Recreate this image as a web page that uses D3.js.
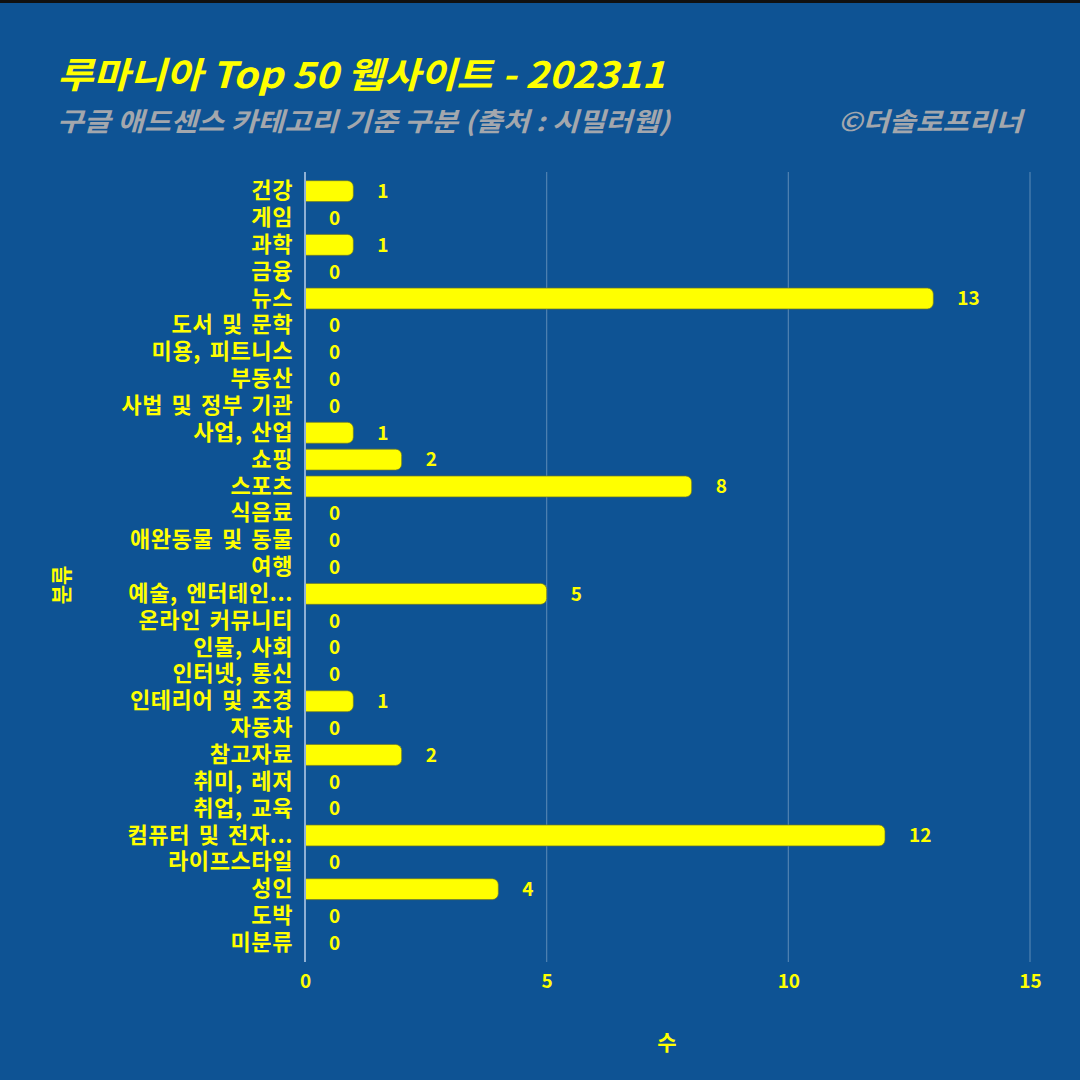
<!DOCTYPE html>
<html>
<head>
<meta charset="utf-8">
<script src="https://cdn.jsdelivr.net/npm/d3@7"></script>
<style>
  html, body { margin: 0; padding: 0; background: #0e5394; }
  svg { display: block; }
  text { font-family: "Noto Sans CJK KR", "Noto Sans", sans-serif; }
</style>
</head>
<body>
<svg id="chart" width="1080" height="1080"></svg>
<script>
// category names and counts, top to bottom
const categories = [
  "건강", "게임", "과학", "금융", "뉴스", "도서 및 문학", "미용, 피트니스", "부동산",
  "사법 및 정부 기관", "사업, 산업", "쇼핑", "스포츠", "식음료", "애완동물 및 동물", "여행",
  "예술, 엔터테인...", "온라인 커뮤니티", "인물, 사회", "인터넷, 통신", "인테리어 및 조경",
  "자동차", "참고자료", "취미, 레저", "취업, 교육", "컴퓨터 및 전자...", "라이프스타일",
  "성인", "도박", "미분류"
];
const counts = [1, 0, 1, 0, 13, 0, 0, 0, 0, 1, 2, 8, 0, 0, 0, 5, 0, 0, 0, 1, 0, 2, 0, 0, 12, 0, 4, 0, 0];
const xTicks = [0, 5, 10, 15];

const rows = categories.map((c, i) => ({ cat: c, value: counts[i] }));

const yellow = "#ffff00";
const margin = { top: 178, right: 50, bottom: 124, left: 305 };
const width = 1080, height = 1080;

const svg = d3.select("#chart");

svg.append("rect")
    .attr("width", width).attr("height", 3)
    .attr("fill", "#111");

const x = d3.scaleLinear().domain([0, 15]).range([margin.left, 1030]);
const y = d3.scaleBand().domain(categories)
    .range([margin.top, height - margin.bottom])
    .paddingInner(0.22).paddingOuter(0.1);

// grid lines
const gridTop = 172, gridBottom = 962;
svg.append("g")
  .selectAll("line")
  .data(xTicks.slice(1))
  .join("line")
    .attr("x1", d => x(d)).attr("x2", d => x(d))
    .attr("y1", gridTop).attr("y2", gridBottom)
    .attr("stroke", "rgba(255,255,255,0.28)")
    .attr("stroke-width", 1.2);

// bars, rounded only on the right end
function barPath(d) {
  const x0 = x(0), x1 = x(d.value), top = y(d.cat), h = y.bandwidth();
  const r = Math.min(6, (x1 - x0) / 2, h / 2);
  const p = d3.path();
  p.moveTo(x0, top);
  p.lineTo(x1 - r, top);
  p.arcTo(x1, top, x1, top + r, r);
  p.lineTo(x1, top + h - r);
  p.arcTo(x1, top + h, x1 - r, top + h, r);
  p.lineTo(x0, top + h);
  p.closePath();
  return p.toString();
}

svg.append("g")
  .selectAll("path")
  .data(rows.filter(d => d.value > 0))
  .join("path")
    .attr("d", barPath)
    .attr("fill", yellow)
    .attr("stroke", "rgba(110,120,40,0.7)")
    .attr("stroke-width", 1);

// zero axis line
svg.append("line")
    .attr("x1", x(0)).attr("x2", x(0))
    .attr("y1", gridTop).attr("y2", gridBottom)
    .attr("stroke", "#8fb0d4")
    .attr("stroke-width", 2);

// value labels
svg.append("g")
  .selectAll("text")
  .data(rows)
  .join("text")
    .attr("x", d => x(d.value) + 24)
    .attr("y", d => y(d.cat) + y.bandwidth() / 2)
    .attr("dy", "0.36em")
    .attr("fill", yellow)
    .attr("font-size", 19)
    .attr("font-weight", "bold")
    .text(d => d.value);

// category labels
const yAxis = svg.append("g")
    .attr("transform", `translate(${margin.left - 12},0)`)
    .call(d3.axisLeft(y).tickSize(0).tickPadding(0));
yAxis.select(".domain").remove();
yAxis.selectAll("text")
    .attr("fill", yellow)
    .attr("font-size", 22)
    .attr("font-weight", "bold")
    .attr("letter-spacing", 0.6)
    .attr("word-spacing", 3)
    .attr("font-family", "'Noto Sans CJK KR', sans-serif");

// x axis tick labels
const xAxis = svg.append("g")
    .attr("transform", `translate(0,${gridBottom})`)
    .call(d3.axisBottom(x).tickValues(xTicks).tickSize(0).tickPadding(13));
xAxis.select(".domain").remove();
xAxis.selectAll("text")
    .attr("fill", yellow)
    .attr("font-size", 19)
    .attr("font-weight", "bold")
    .attr("font-family", "'Noto Sans CJK KR', sans-serif");

// axis titles
svg.append("text")
    .attr("x", 667).attr("y", 1050)
    .attr("text-anchor", "middle")
    .attr("fill", yellow)
    .attr("font-size", 21)
    .attr("font-weight", "bold")
    .text("수");

svg.append("text")
    .attr("transform", "translate(69,585) rotate(-90)")
    .attr("text-anchor", "middle")
    .attr("fill", yellow)
    .attr("font-size", 21)
    .attr("font-weight", "bold")
    .text("분류");

// titles
svg.append("text")
    .attr("x", 57).attr("y", 88)
    .attr("fill", yellow)
    .attr("font-size", 36)
    .attr("font-weight", "bold")
    .attr("font-style", "italic")
    .attr("textLength", 608)
    .attr("lengthAdjust", "spacingAndGlyphs")
    .text("루마니아 Top 50 웹사이트 - 202311");

svg.append("text")
    .attr("x", 57).attr("y", 131)
    .attr("fill", "#a3a7ad")
    .attr("font-size", 26)
    .attr("font-style", "italic")
    .attr("font-weight", "bold")
    .attr("textLength", 613)
    .attr("lengthAdjust", "spacingAndGlyphs")
    .text("구글 애드센스 카테고리 기준 구분 (출처 : 시밀러웹)");

svg.append("text")
    .attr("x", 838).attr("y", 131)
    .attr("fill", "#a3a7ad")
    .attr("font-size", 26)
    .attr("font-style", "italic")
    .attr("font-weight", "bold")
    .attr("textLength", 184)
    .attr("lengthAdjust", "spacingAndGlyphs")
    .text("©더솔로프리너");
</script>
</body>
</html>
